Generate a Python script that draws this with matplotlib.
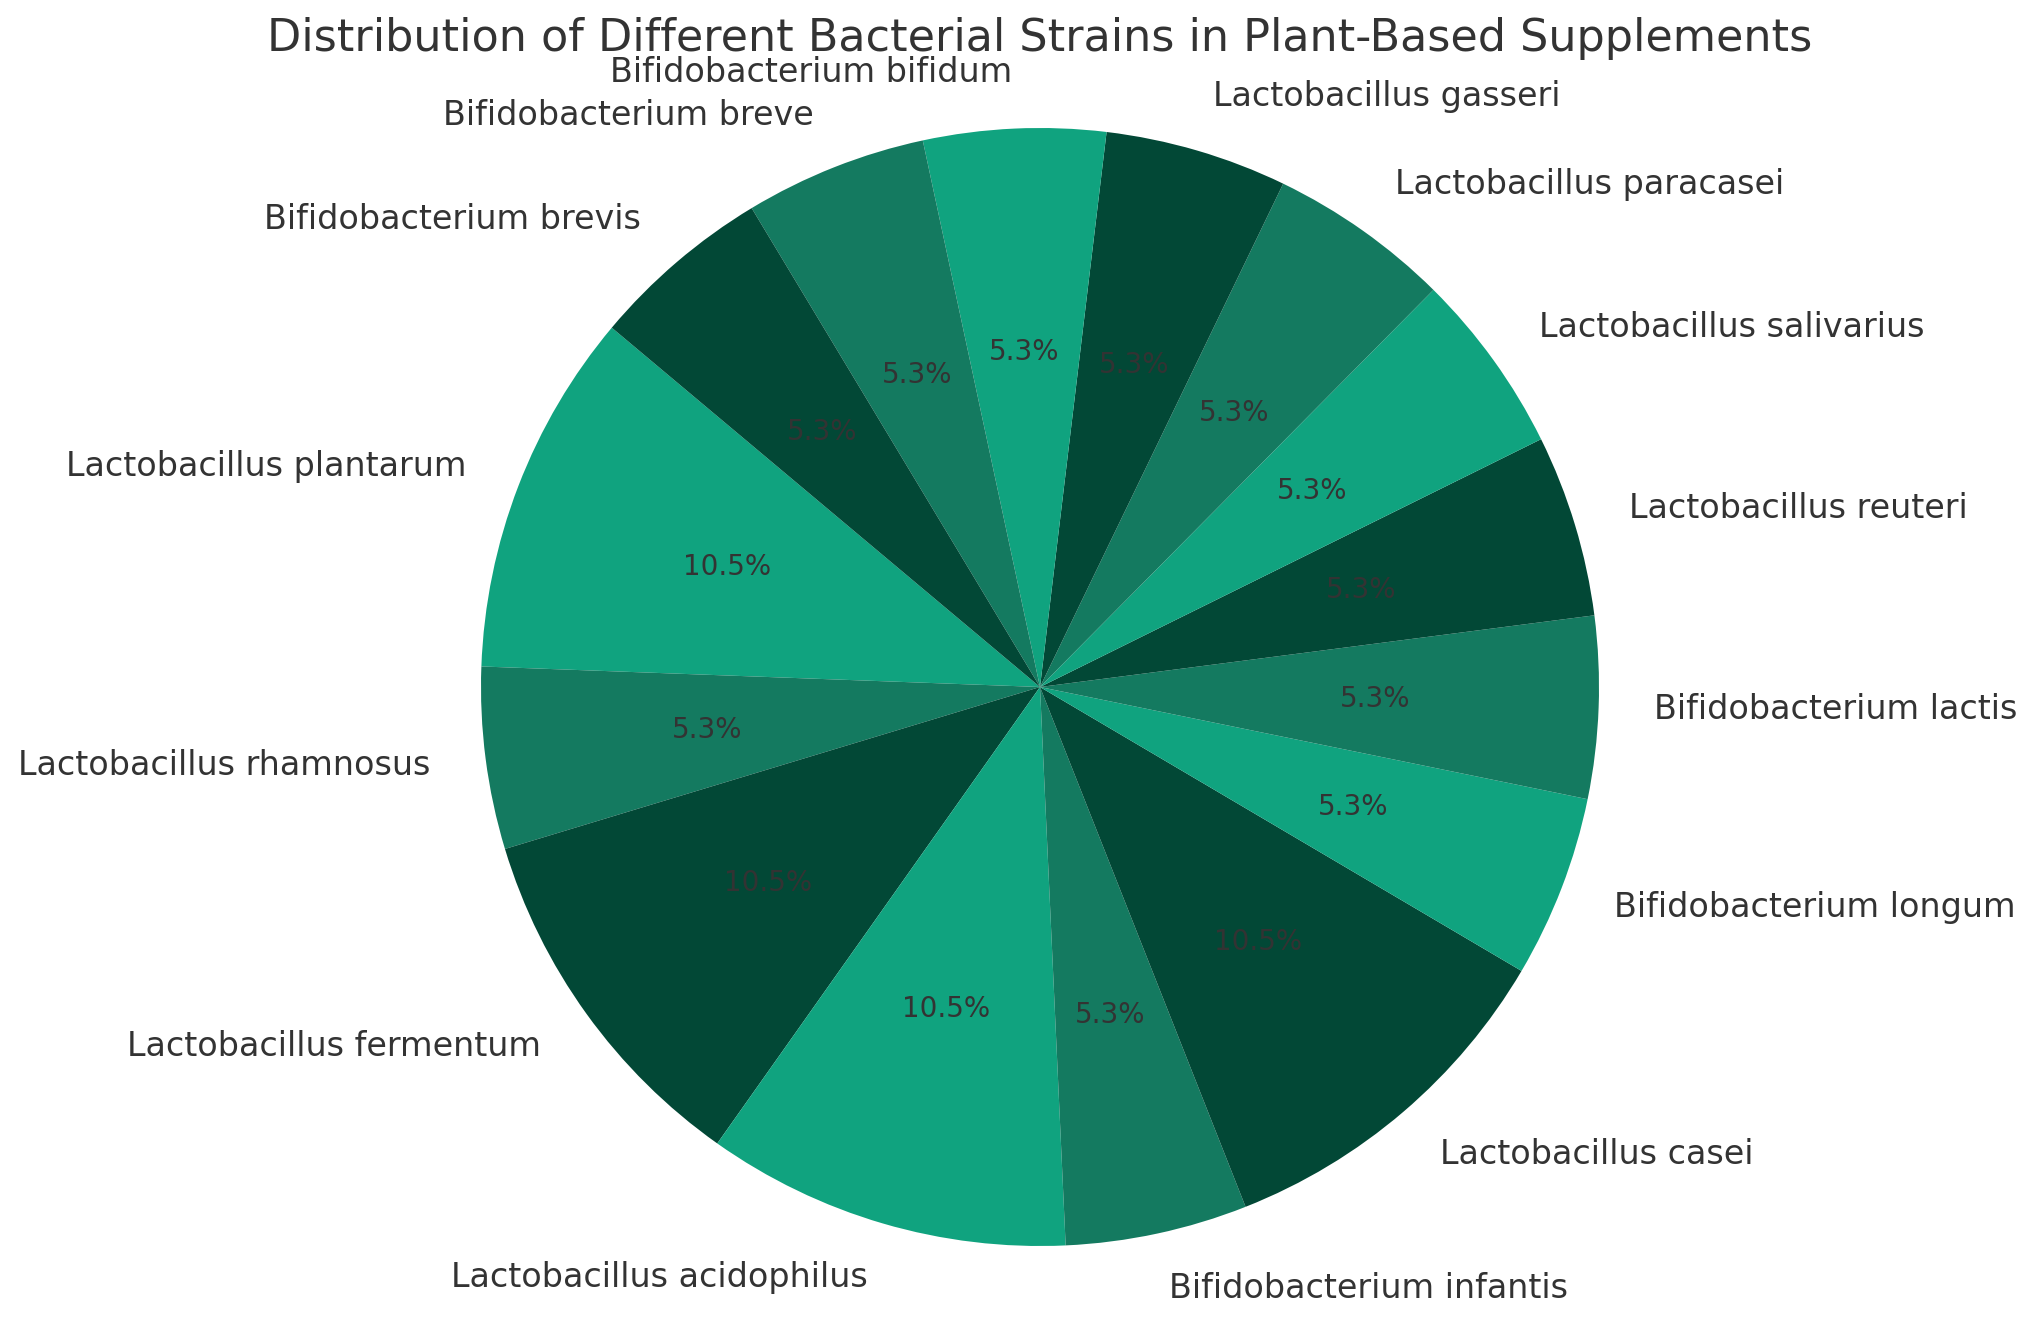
import matplotlib.pyplot as plt

strains = [
    "Lactobacillus plantarum",
    "Lactobacillus rhamnosus",
    "Lactobacillus fermentum",
    "Lactobacillus acidophilus",
    "Bifidobacterium infantis",
    "Lactobacillus casei",
    "Bifidobacterium longum",
    "Bifidobacterium lactis",
    "Lactobacillus reuteri",
    "Lactobacillus salivarius",
    "Lactobacillus paracasei",
    "Lactobacillus gasseri",
    "Bifidobacterium bifidum",
    "Bifidobacterium breve",
    "Bifidobacterium brevis",
]
counts = [2, 1, 2, 2, 1, 2, 1, 1, 1, 1, 1, 1, 1, 1, 1]
palette = ["#10a37f", "#147a60", "#024836"]
colors = [palette[i % 3] for i in range(len(counts))]

W, H, dpi = 2038, 1323, 200
fig = plt.figure(figsize=(W / dpi, H / dpi), dpi=dpi)
ax = fig.add_axes([0, 0, 1, 1])

ax.pie(counts, labels=strains, colors=colors, autopct="%1.1f%%",
       startangle=140, textprops={"fontsize": 12, "color": "#333333"})
for t in ax.texts:
    if t.get_text().endswith("%"):
        t.set_fontsize(10)

# pie centre and radius in pixels
cx, cy, r = 1040, 636, 559
ax.set_xlim(-cx / r, (W - cx) / r)
ax.set_ylim(-cy / r, (H - cy) / r)
ax.set_aspect("equal", adjustable="box")
ax.axis("off")

fig.text(1040 / W, 1 - 39 / H, "Distribution of Different Bacterial Strains in Plant-Based Supplements",
         fontsize=16, color="#333333", ha="center", va="center")

fig.savefig("out.png", dpi=dpi)
